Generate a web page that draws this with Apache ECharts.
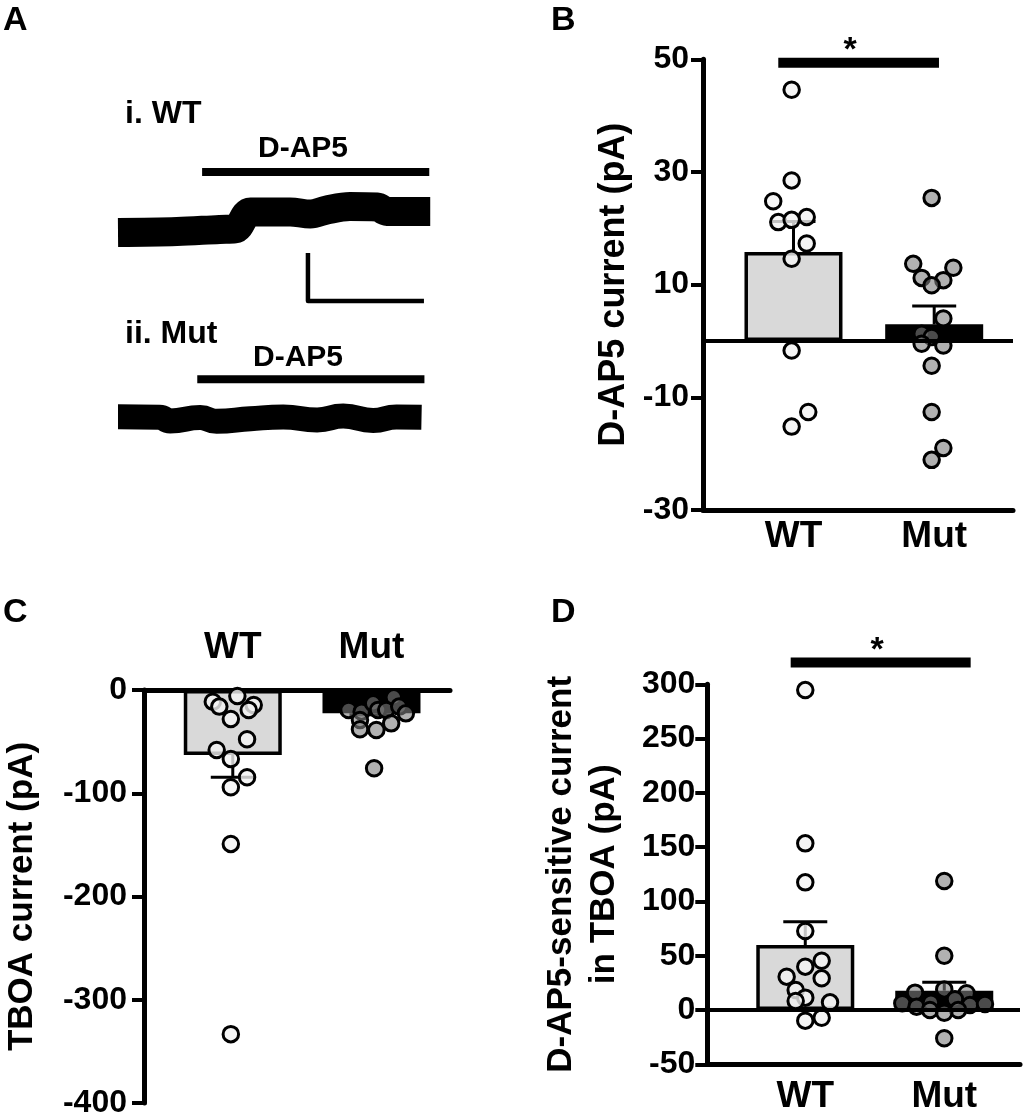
<!DOCTYPE html>
<html>
<head>
<meta charset="utf-8">
<title></title>
<script src="https://cdn.jsdelivr.net/npm/echarts@6/dist/echarts.min.js"></script>
<style>html,body{margin:0;padding:0;background:#fff;}</style>
</head>
<body>
<div id="main" style="width:1023px;height:1119px;"></div>
<script>
var groups = ['WT', 'Mut'];

// A: example traces, time (s) and holding current (pA)
var wtTraceT = [0, 61, 105, 121, 137, 178, 199, 216, 240, 268, 278, 323];
var wtTraceI = [0.2, 0.6, 1.5, 1.7, 8.8, 8.8, 7.9, 9.6, 11.0, 10.8, 9.0, 9.0];
var mutTraceT = [0, 43, 54, 85, 102, 137, 171, 206, 233, 264, 288, 314];
var mutTraceI = [0.5, 0.3, -1.2, 0.2, -1.4, -0.3, 0.4, -0.8, 0.8, -1.0, 0.4, 0.3];
var wtDrugT = [87, 322], wtDrugI = 25.4;
var mutDrugT = [82, 317], mutDrugI = 16.1;
var scaleBarT = [196.5, 196.5, 316.5];   // 120 s
var scaleBarI = [-8.3, -28.3, -28.3];    // 20 pA

// B: D-AP5 current (pA)
var bMean = [15.8, 2.95];
var bErr = [21.2, 6.2];
var bWtX = [-0.013, -0.013, -0.144, 0.094, -0.108, -0.013, 0.094, -0.013, -0.013, 0.105, -0.013];
var bWtY = [44.6, 28.5, 24.8, 22.0, 21.1, 21.5, 17.3, 14.6, -1.7, -12.6, -15.2];
var bMutX = [-0.018, -0.149, 0.136, -0.089, 0.065, -0.018, 0.065, -0.089, -0.018, -0.089, 0.065, -0.018, -0.018, 0.065, -0.018];
var bMutY = [25.4, 13.7, 13.0, 11.2, 10.8, 9.9, 4.0, 1.3, 0.7, -0.5, -0.8, -4.4, -12.6, -19.0, -21.1];
var bTicks = [-30, -10, 10, 30, 50];
var bSigX = [-0.108, 1.034], bSigY = 49.4;

// C: TBOA current (pA)
var cMean = [-62.9, -22.6];
var cErr = [-84.5, -24];
var cWtX = [0.033, -0.144, -0.097, 0.151, 0.115, -0.014, 0.103, -0.116, -0.014, 0.103, -0.014, -0.014, -0.014];
var cWtY = [-5.8, -11.3, -16.1, -14.5, -19.4, -28.1, -47.7, -58.1, -66.8, -84.5, -94.2, -149.1, -333.3];
var cMutX = [-0.076, -0.165, -0.071, 0.012, 0.047, 0.161, 0.106, 0.2, 0.248, -0.083, 0.142, -0.083, 0.035, 0.019];
var cMutY = [3.9, -19.4, -21, -12.9, -19.4, -7.1, -19.4, -16.1, -22.6, -29, -32.3, -38, -38.7, -75.8];
var cTicks = [-400, -300, -200, -100, 0];

// D: D-AP5-sensitive current in TBOA (pA)
var dMean = [59.9, 17.8];
var dErr = [81.3, 25.5];
var dWtX = [0, 0, 0, 0, 0.118, 0, -0.134, 0.118, -0.069, 0, 0.178, -0.069, 0.118, 0];
var dWtY = [294.7, 153.5, 117.6, 72.7, 45.4, 39.9, 30.7, 29.2, 18.4, 11.4, 7.1, 8.3, -7.1, -9.8];
var dMutX = [0, 0, 0, -0.21, 0.161, -0.302, -0.199, -0.096, 0.077, 0.185, 0.293, 0.1, -0.103, 0, 0];
var dMutY = [118.8, 50, 19.0, 16, 15.4, 6.2, 3.1, 6.7, 9.9, 4.6, 5.5, 0, 0, -2.5, -26];
var dTicks = [-50, 0, 50, 100, 150, 200, 250, 300];
var dSigX = [-0.105, 1.19], dSigY = 320;

var FONT = '"Liberation Sans", Arial, Helvetica, sans-serif';

function zip(xs, ys, shift) {
	return xs.map(function (x, k) { return [x + (shift || 0), ys[k]]; });
}

function yAxisOf(grid, min, max, step, ticks, name, gap, size, margin) {
	return {
		gridIndex: grid, type: 'value', min: min, max: max, interval: step,
		axisLine: { show: true, onZero: false, lineStyle: { color: '#000', width: 5 } },
		axisTick: { show: true, length: 12, customValues: ticks, lineStyle: { color: '#000', width: 4 } },
		axisLabel: { customValues: ticks, color: '#000', fontSize: 32, fontWeight: 'bold', fontFamily: FONT, margin: margin },
		splitLine: { show: false },
		name: name, nameLocation: 'middle', nameRotate: 90, nameGap: gap,
		nameTextStyle: { color: '#000', fontSize: size, fontWeight: 'bold', fontFamily: FONT, lineHeight: 43 }
	};
}

function xAxisOf(grid, min, max, pos, margin) {
	return {
		gridIndex: grid, type: 'value', min: min, max: max, position: pos,
		axisLine: { show: true, onZero: false, lineStyle: { color: '#000', width: 5 } },
		axisTick: { show: false },
		axisLabel: {
			customValues: [0, 1], color: '#000', fontSize: 37, fontWeight: 'bold', fontFamily: FONT, margin: margin,
			formatter: function (v) { return groups[Math.round(v)]; }
		},
		splitLine: { show: false }
	};
}

// bar + SEM + individual cells for one panel
function barPanel(g, mean, err, wtX, wtY, mutX, mutY, zeroLine) {
	var bar = {
		type: 'bar', xAxisIndex: g, yAxisIndex: g, barWidth: 98, z: 2,
		itemStyle: { borderColor: '#000', borderWidth: 3.5 },
		data: [
			{ value: [0, mean[0]], itemStyle: { color: '#d9d9d9' } },
			{ value: [1, mean[1]], itemStyle: { color: '#000' } }
		]
	};
	if (zeroLine) {
		bar.markLine = {
			silent: true, symbol: 'none', label: { show: false },
			lineStyle: { color: '#000', width: 4, type: 'solid' },
			data: [{ yAxis: 0 }]
		};
	}
	var sem = {
		type: 'custom', xAxisIndex: g, yAxisIndex: g, z: 3,
		data: mean.map(function (m, k) { return [k, m, err[k]]; }),
		renderItem: function (params, api) {
			var p0 = api.coord([api.value(0), api.value(1)]);
			var p1 = api.coord([api.value(0), api.value(2)]);
			var hw = 22;
			return {
				type: 'group', children: [
					{ type: 'line', shape: { x1: p0[0], y1: p0[1], x2: p1[0], y2: p1[1] }, style: { stroke: '#000', lineWidth: 3 } },
					{ type: 'line', shape: { x1: p1[0] - hw, y1: p1[1], x2: p1[0] + hw, y2: p1[1] }, style: { stroke: '#000', lineWidth: 3 } }
				]
			};
		}
	};
	var dots = function (xs, ys, shift, fill) {
		return {
			type: 'scatter', xAxisIndex: g, yAxisIndex: g, z: 4, symbol: 'circle', symbolSize: 15.5,
			itemStyle: { color: fill, borderColor: '#000', borderWidth: 3, opacity: 1 },
			data: zip(xs, ys, shift)
		};
	};
	return [bar, sem,
		dots(wtX, wtY, 0, 'rgba(242,242,242,0.8)'),
		dots(mutX, mutY, 1, 'rgba(125,125,125,0.6)')];
}

function lineSeries(g, data, width, smooth) {
	return {
		type: 'line', xAxisIndex: g, yAxisIndex: g, data: data, symbol: 'none', showSymbol: false,
		clip: false, silent: true, z: 5, smooth: smooth || false,
		lineStyle: { color: '#000', width: width, cap: 'butt', join: 'round' }
	};
}

function hiddenAxis(grid, min, max) {
	return { gridIndex: grid, type: 'value', min: min, max: max, show: false, splitLine: { show: false } };
}

function text(str, x, y, size, align) {
	return {
		type: 'text', silent: true,
		style: { text: str, x: x, y: y, fill: '#000', font: 'bold ' + size + 'px ' + FONT, align: align || 'left', verticalAlign: 'middle' }
	};
}

var myChart = echarts.init(document.getElementById('main'));

var series = [
	lineSeries(0, zip(wtTraceT, wtTraceI), 29, 0.35),
	lineSeries(0, [[wtDrugT[0], wtDrugI], [wtDrugT[1], wtDrugI]], 8),
	lineSeries(0, zip(scaleBarT, scaleBarI), 4.5),
	lineSeries(1, zip(mutTraceT, mutTraceI), 25, 0.5),
	lineSeries(1, [[mutDrugT[0], mutDrugI], [mutDrugT[1], mutDrugI]], 8),
	lineSeries(2, [[bSigX[0], bSigY], [bSigX[1], bSigY]], 10),
	lineSeries(4, [[dSigX[0], dSigY], [dSigX[1], dSigY]], 10)
].concat(
	barPanel(2, bMean, bErr, bWtX, bWtY, bMutX, bMutY, true),
	barPanel(3, cMean, cErr, cWtX, cWtY, cMutX, cMutY, false),
	barPanel(4, dMean, dErr, dWtX, dWtY, dMutX, dMutY, true)
);

var option = {
	animation: false,
	backgroundColor: '#fff',
	grid: [
		{ left: 118, top: 137, width: 319, height: 192 },
		{ left: 118, top: 322, width: 319, height: 192 },
		{ left: 703, top: 59.3, width: 310, height: 450.7 },
		{ left: 138.3, top: 690, width: 311.7, height: 413.3 },
		{ left: 707.3, top: 684.3, width: 312.7, height: 380 }
	],
	xAxis: [
		hiddenAxis(0, 0, 330),
		hiddenAxis(1, 0, 330),
		xAxisOf(2, -0.643, 1.56, 'bottom', 8),
		xAxisOf(3, -0.64, 1.566, 'top', 24),
		xAxisOf(4, -0.705, 1.545, 'bottom', 14)
	],
	yAxis: [
		hiddenAxis(0, -40, 40),
		hiddenAxis(1, -40, 40),
		yAxisOf(2, -30, 50, 20, bTicks, 'D-AP5 current (pA)', 67, 36, 14),
		yAxisOf(3, -400, 0, 100, cTicks, 'TBOA current (pA)', 100, 35, 17),
		yAxisOf(4, -50, 300, 50, dTicks, 'D-AP5-sensitive current\nin TBOA (pA)', 81, 35, 12)
	],
	graphic: [
		text('A', 3, 21, 34),
		text('B', 551, 21, 34),
		text('C', 3, 613, 34),
		text('D', 551, 613, 34),
		text('i. WT', 125, 114, 32),
		text('D-AP5', 303, 149, 30, 'center'),
		text('ii. Mut', 125, 334, 32),
		text('D-AP5', 298, 357.5, 30, 'center'),
		text('*', 850, 50.5, 34, 'center'),
		text('*', 877, 650.5, 34, 'center')
	],
	series: series
};

myChart.setOption(option);
</script>
</body>
</html>
